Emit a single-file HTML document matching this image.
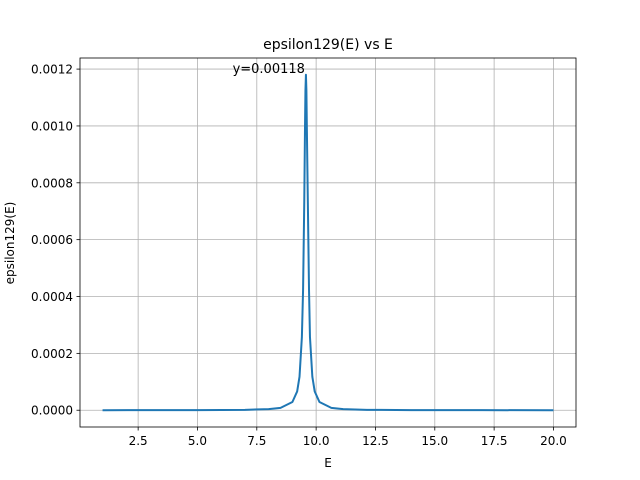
<!DOCTYPE html>
<html><head><meta charset="utf-8"><style>body{margin:0;background:#fff}svg{display:block;font-family:"DejaVu Sans","Liberation Sans",sans-serif}</style></head>
<body>
<svg id="chart" width="640" height="480">
<rect width="640" height="480" fill="#fff"/>
<g id="grid"></g>
<path id="line" fill="none" stroke="#1f77b4" stroke-width="2" stroke-linejoin="round"/>
<rect x="80" y="58" width="496" height="369" fill="none" stroke="#000" stroke-width="0.8"/>
<g id="ticks" font-size="12"></g>
<text x="328" y="49" text-anchor="middle" font-size="14">epsilon129(E) vs E</text>
<text x="328" y="467" text-anchor="middle" font-size="12">E</text>
<text transform="translate(14,243) rotate(-90)" text-anchor="middle" font-size="12">epsilon129(E)</text>
<text id="ann" text-anchor="end" font-size="13">y=0.00118</text>
</svg>
<script>
const energies=[1,3,5,7,8,8.5,9,9.2,9.3,9.4,9.45,9.5,9.53,9.55,9.57,9.59,9.61,9.65,9.7,9.74,9.84,9.94,10.14,10.64,11.14,12.14,14,17,20];
const epsValues=[1.3e-7,2.2e-7,4.6e-7,1.45e-6,3.9e-6,8.3e-6,2.9e-5,6.6e-5,1.18e-4,2.58e-4,4.24e-4,7.35e-4,9.86e-4,1.125e-3,1.18e-3,1.125e-3,9.86e-4,7.35e-4,4.24e-4,2.58e-4,1.18e-4,6.6e-5,2.9e-5,8.3e-6,3.9e-6,1.45e-6,4.9e-7,1.7e-7,9e-8];
const xTicks=[2.5,5.0,7.5,10.0,12.5,15.0,17.5,20.0];
const yTicks=[0,0.0002,0.0004,0.0006,0.0008,0.0010,0.0012];
const peakLabel="y=0.00118";
const L=80,R=576,T=58,B=427;
const xmin=0.05,xmax=20.95,ymin=-0.000059,ymax=0.001239;
const sx=v=>L+(v-xmin)/(xmax-xmin)*(R-L);
const sy=v=>B-(v-ymin)/(ymax-ymin)*(B-T);
const NS="http://www.w3.org/2000/svg";
const grid=document.getElementById('grid'),ticks=document.getElementById('ticks');
function mk(tag,attrs,parent){const e=document.createElementNS(NS,tag);for(const k in attrs)e.setAttribute(k,attrs[k]);parent.appendChild(e);return e;}
xTicks.forEach(v=>{const x=sx(v);
 const g=mk('line',{x1:x,x2:x,y1:T,y2:B,stroke:'#b0b0b0','stroke-width':0.8},grid);
 
 
 const t=mk('line',{x1:x,x2:x,y1:B,y2:B+3.5,stroke:'#000','stroke-width':0.8},ticks);
 
 
 const l=mk('text',{x:x,y:B+18,'text-anchor':'middle'},ticks);l.textContent=v.toFixed(1);
 
 
});
yTicks.forEach(v=>{const y=sy(v);
 const g=mk('line',{x1:L,x2:R,y1:y,y2:y,stroke:'#b0b0b0','stroke-width':0.8},grid);
 
 
 const t=mk('line',{x1:L-3.5,x2:L,y1:y,y2:y,stroke:'#000','stroke-width':0.8},ticks);
 
 
 const l=mk('text',{x:L-7,y:y+4.5,'text-anchor':'end'},ticks);l.textContent=v.toFixed(4);
 
 
});
document.getElementById('line').setAttribute('d',energies.map((e,i)=>(i?'L':'M')+sx(e).toFixed(2)+','+sy(epsValues[i]).toFixed(2)).join(''));
let pi=0;epsValues.forEach((v,i)=>{if(v>epsValues[pi])pi=i;});
const ann=document.getElementById('ann');ann.setAttribute('x',sx(energies[pi])-1);ann.setAttribute('y',sy(epsValues[pi])-2);ann.textContent=peakLabel;
</script>
</body></html>
